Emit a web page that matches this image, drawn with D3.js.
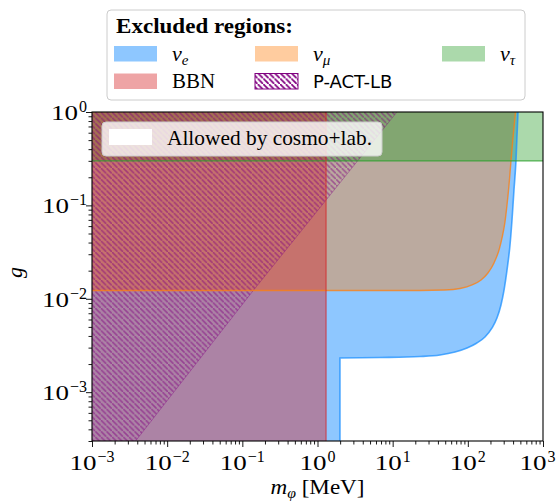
<!DOCTYPE html>
<html><head><meta charset="utf-8">
<script src="https://cdn.jsdelivr.net/npm/d3@7"></script>
<style>body{margin:0;background:#fff} svg{display:block}</style>
</head><body>
<svg id="c" width="557" height="503"></svg>
<script>
// ---- data ----
const xTicks = [1e-3, 1e-2, 1e-1, 1e0, 1e1, 1e2, 1e3];
const xTickExp = ["−3", "−2", "−1", "0", "1", "2", "3"];
const yTicks = [1e-3, 1e-2, 1e-1, 1e0];
const yTickExp = ["−3", "−2", "−1", "0"];
// nu_e excluded region lower boundary (g above curve excluded; m below 2 MeV all excluded)
const nuE_m = [1.99, 6.78, 23.1, 42.6, 67.5, 97.5, 132, 169, 210, 244, 276, 303, 332, 364, 387, 411, 437, 465];
const nuE_g = [2.32e-3, 2.35e-3, 2.41e-3, 2.50e-3, 2.69e-3, 2.97e-3, 3.36e-3, 3.90e-3, 4.87e-3, 6.22e-3, 8.58e-3, 0.0124, 0.0203, 0.0377, 0.0698, 0.146, 0.299, 1];
// nu_mu excluded region lower boundary
const nuMu_m = [1e-3, 23.1, 49.7, 78.7, 114, 150, 185, 223, 260, 285, 312, 332, 353, 375, 399, 431];
const nuMu_g = [0.01227, 0.01227, 0.0124, 0.0129, 0.0141, 0.0159, 0.0189, 0.0242, 0.0333, 0.0448, 0.0664, 0.101, 0.165, 0.299, 0.527, 1];
// nu_tau excluded: g above
const nuTau_g = 0.3;
// BBN excluded: m below
const bbn_m = 1.3;
// P-ACT-LB boundary (excluded above/left)
const pact_m = [3.8e-3, 0.139, 1.3, 11.4];
const pact_g = [3e-4, 0.0122, 0.114, 1];

const xDomain = [1e-3, 1e3], yDomain = [3e-4, 1];

// ---- setup ----
const W = 557;
const svg = d3.select("#c");
const L = 92, R = 543, T = 112, B = 441;
const x = d3.scaleLog().domain(xDomain).range([L, R]);
const y = d3.scaleLog().domain(yDomain).range([B, T]);
const serif = "'Liberation Serif', 'DejaVu Serif', serif";

const defs = svg.append("defs");
defs.append("clipPath").attr("id", "clip").append("rect")
  .attr("x", L).attr("y", T).attr("width", R - L).attr("height", B - T);
function hatch(id, op, sw) {
  const w = 5.6;
  const p = defs.append("pattern").attr("id", id).attr("patternUnits", "userSpaceOnUse")
    .attr("width", w).attr("height", w);
  p.append("path").attr("d", `M-2,-2 l4,4 M0,0 l${w},${w} M${w-2},${w-2} l4,4`)
    .attr("stroke", "#800080").attr("stroke-width", sw).attr("stroke-opacity", op).attr("fill", "none");
}
hatch("hatchPlot", 0.5, 1.6);
hatch("hatchLeg", 1, 1.8);

const g = svg.append("g").attr("clip-path", "url(#clip)");
const lin = d3.line().x(d => x(d[0])).y(d => y(d[1]));
const mono = d3.line().x(d => x(d[0])).y(d => y(d[1])).curve(d3.curveMonotoneX);

const blue = "#1e90ff", orange = "#ff7f0e", green = "#2ca02c", red = "#d62728";
const yLow = yDomain[0] / 10;

// nu_e fill
const nuEpts = nuE_m.map((m, i) => [m, nuE_g[i]]);
const nuEcurve = mono(nuEpts);
const nuEpath = lin([[xDomain[0], yDomain[1]], [xDomain[0], yLow], [nuE_m[0], yLow]]) + "L" + nuEcurve.slice(1) + "Z";
g.append("path").attr("d", nuEpath).attr("fill", blue).attr("fill-opacity", 0.5);

// nu_mu fill
const nuMupts = nuMu_m.map((m, i) => [m, nuMu_g[i]]);
const nuMucurve = mono(nuMupts);
g.append("path").attr("d", lin([[xDomain[0], yDomain[1]]]) + "L" + nuMucurve.slice(1) + "Z")
  .attr("fill", orange).attr("fill-opacity", 0.4);

// nu_tau fill
g.append("rect").attr("x", x(xDomain[0])).attr("width", x(xDomain[1]) - x(xDomain[0]))
  .attr("y", y(yDomain[1])).attr("height", y(nuTau_g) - y(yDomain[1]))
  .attr("fill", green).attr("fill-opacity", 0.4);

// BBN fill
g.append("rect").attr("x", x(xDomain[0])).attr("width", x(bbn_m) - x(xDomain[0]))
  .attr("y", y(yDomain[1])).attr("height", y(yDomain[0]) - y(yDomain[1]))
  .attr("fill", red).attr("fill-opacity", 0.42);

// P-ACT-LB hatch
const pactPts = pact_m.map((m, i) => [m, pact_g[i]]);
g.append("path").attr("d", lin([[xDomain[0], yDomain[0]], ...pactPts, [xDomain[0], yDomain[1]]]) + "Z")
  .attr("fill", "url(#hatchPlot)");
g.append("path").attr("d", lin(pactPts)).attr("fill", "none").attr("stroke", "#800080")
  .attr("stroke-opacity", 0.35).attr("stroke-width", 1);

// edges
g.append("path").attr("d", lin([[nuE_m[0], yLow], nuEpts[0]]) + "L" + nuEcurve.slice(1))
  .attr("fill", "none").attr("stroke", blue).attr("stroke-opacity", 0.75).attr("stroke-width", 1.6);
g.append("path").attr("d", nuMucurve).attr("fill", "none").attr("stroke", orange)
  .attr("stroke-opacity", 0.75).attr("stroke-width", 1.4);
g.append("path").attr("d", lin([[xDomain[0], nuTau_g], [xDomain[1], nuTau_g]])).attr("fill", "none")
  .attr("stroke", green).attr("stroke-opacity", 0.8).attr("stroke-width", 1.4);
g.append("path").attr("d", lin([[bbn_m, yLow], [bbn_m, yDomain[1]]])).attr("fill", "none")
  .attr("stroke", red).attr("stroke-opacity", 0.6).attr("stroke-width", 1.4);

// ---- axes ----
const minorX = [], minorY = [];
for (let e = -3; e < 3; e++) for (let k = 2; k <= 9; k++) minorX.push(k * Math.pow(10, e));
for (let e = -4; e < 0; e++) for (let k = 2; k <= 9; k++) { const v = k * Math.pow(10, e); if (v >= yDomain[0] * 0.999) minorY.push(v); }

const xAxis = svg.append("g").attr("transform", `translate(0,${B})`);
xAxis.call(d3.axisBottom(x).tickValues(minorX).tickSize(3.5).tickFormat(""));
xAxis.append("g").call(d3.axisBottom(x).tickValues(xTicks).tickSize(6).tickFormat(""));
const yAxis = svg.append("g").attr("transform", `translate(${L},0)`);
yAxis.call(d3.axisLeft(y).tickValues(minorY).tickSize(3.5).tickFormat(""));
yAxis.append("g").call(d3.axisLeft(y).tickValues(yTicks).tickSize(6).tickFormat(""));
svg.selectAll(".domain").remove();
svg.selectAll(".tick line").attr("stroke", "#000").attr("stroke-width", 0.9);

svg.append("rect").attr("x", L).attr("y", T).attr("width", R - L).attr("height", B - T)
  .attr("fill", "none").attr("stroke", "#000").attr("stroke-width", 1.1);

function powLabel(xc, yb, exp, anchor) {
  const grp = svg.append("g").attr("font-family", serif);
  const baseW = 27;
  const base = grp.append("text").attr("font-size", 22).attr("textLength", baseW)
    .attr("lengthAdjust", "spacingAndGlyphs").text("10");
  const e = grp.append("text").attr("font-size", 16).text(exp);
  const ew = e.node().getComputedTextLength();
  const total = baseW + 1 + ew;
  let left = anchor === "middle" ? xc - total / 2 : xc - total;
  left = Math.min(left, W - 1.5 - total);   // keep inside the picture
  base.attr("x", left).attr("y", yb);
  e.attr("x", left + baseW + 1).attr("y", yb - 8);
}
xTicks.forEach((v, i) => powLabel(x(v), B + 29, xTickExp[i], "middle"));
yTicks.forEach((v, i) => powLabel(L - 5, y(v) + 8, yTickExp[i], "end"));

// axis labels
const xl = svg.append("text").attr("x", (L + R) / 2).attr("y", 494).attr("text-anchor", "middle")
  .attr("font-family", serif).attr("font-size", 22).attr("textLength", 94).attr("lengthAdjust", "spacingAndGlyphs");
xl.append("tspan").attr("font-style", "italic").text("m");
xl.append("tspan").attr("font-style", "italic").attr("font-size", 15).attr("dy", 4).text("φ");
xl.append("tspan").attr("dy", -4).text(" [MeV]");
svg.append("text").attr("transform", `translate(22,${(T + B) / 2 - 4}) rotate(-90)`)
  .attr("text-anchor", "middle").attr("font-family", serif).attr("font-style", "italic")
  .attr("font-size", 22).text("g");

// ---- inner legend ----
svg.append("rect").attr("x", 102).attr("y", 122).attr("width", 280).attr("height", 34).attr("rx", 4)
  .attr("fill", "#fff").attr("fill-opacity", 0.8).attr("stroke", "#ccc").attr("stroke-width", 1);
svg.append("rect").attr("x", 109).attr("y", 129).attr("width", 43).attr("height", 16).attr("fill", "#fff");
svg.append("text").attr("x", 167).attr("y", 145).attr("font-family", serif).attr("font-size", 21)
  .attr("textLength", 205).attr("lengthAdjust", "spacingAndGlyphs").text("Allowed by cosmo+lab.");

// ---- outer legend ----
svg.append("rect").attr("x", 107).attr("y", 10).attr("width", 418).attr("height", 90).attr("rx", 4)
  .attr("fill", "#fff").attr("stroke", "#ccc").attr("stroke-width", 1);
svg.append("text").attr("x", 116).attr("y", 33).attr("font-family", serif).attr("font-weight", "bold")
  .attr("font-size", 20).attr("textLength", 177).attr("lengthAdjust", "spacingAndGlyphs").text("Excluded regions:");

const legItems = [
  {col: 0, row: 0, fill: blue, op: 0.5, sub: "e"},
  {col: 1, row: 0, fill: orange, op: 0.4, sub: "μ"},
  {col: 2, row: 0, fill: green, op: 0.4, sub: "τ"},
  {col: 0, row: 1, fill: red, op: 0.42, text: "BBN"},
  {col: 1, row: 1, fill: "url(#hatchLeg)", op: 1, text: "P-ACT-LB", sans: true},
];
const colX = [114, 255, 442], rowY = [46, 73.5];
legItems.forEach(it => {
  const px = colX[it.col], py = rowY[it.row];
  svg.append("rect").attr("x", px).attr("y", py).attr("width", 43).attr("height", 15.5)
    .attr("fill", it.fill).attr("fill-opacity", it.op)
    .attr("stroke", it.sans ? "#800080" : "none").attr("stroke-width", 1);
  const t = svg.append("text").attr("x", px + 58).attr("y", py + 14.5);
  if (it.sub) {
    t.attr("font-family", serif).attr("font-size", 22);
    t.append("tspan").attr("font-style", "italic").text("ν");
    t.append("tspan").attr("font-style", "italic").attr("font-size", 15).attr("dy", 4).text(it.sub);
  } else if (it.sans) {
    t.attr("font-family", "'DejaVu Sans', sans-serif").attr("font-size", 18).text(it.text);
  } else {
    t.attr("font-family", serif).attr("font-size", 21).attr("textLength", 43)
      .attr("lengthAdjust", "spacingAndGlyphs").text(it.text);
  }
});
</script>
</body></html>
